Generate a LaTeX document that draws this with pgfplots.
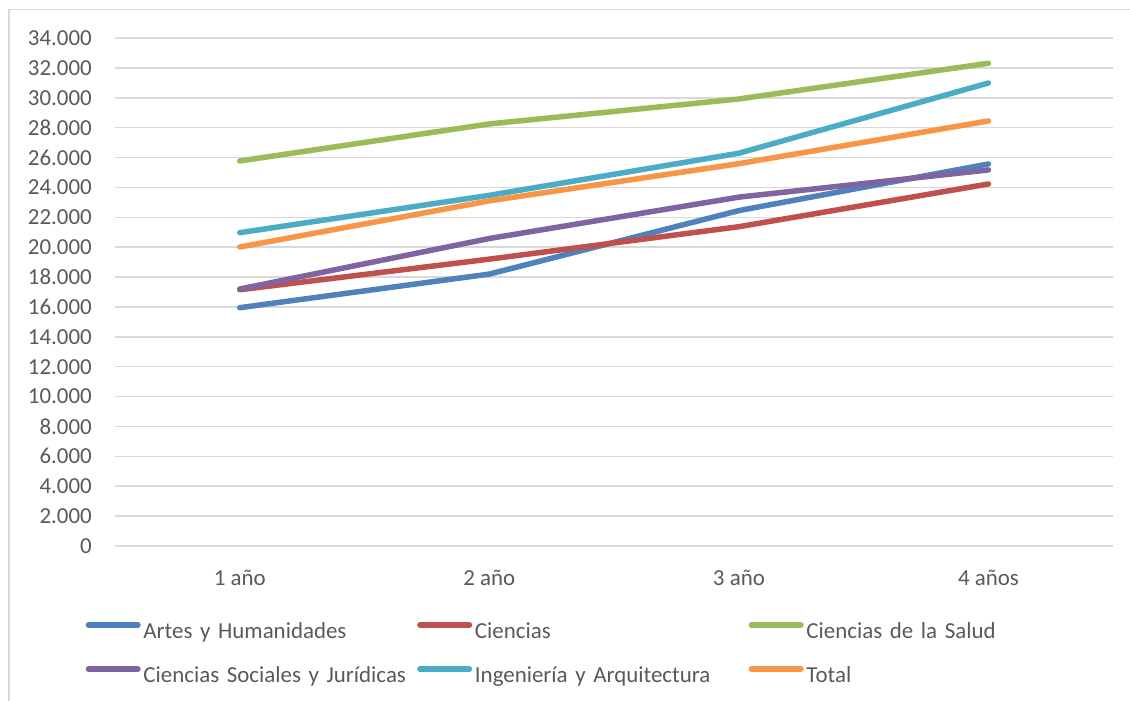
\documentclass[border=0pt]{standalone}
\usepackage{pgfplots}
\pgfplotsset{compat=1.18}
\usepackage{fontspec}
\setmainfont{Carlito}
\definecolor{cA}{HTML}{4F81BD}
\definecolor{cB}{HTML}{C0504D}
\definecolor{cC}{HTML}{9BBB59}
\definecolor{cD}{HTML}{8064A2}
\definecolor{cE}{HTML}{4BACC6}
\definecolor{cF}{HTML}{F79646}
\definecolor{gridc}{HTML}{D9D9D9}
\definecolor{txt}{HTML}{595959}
\begin{document}
\begin{tikzpicture}[x=1bp,y=1bp]
\path[use as bounding box] (0bp,0bp) rectangle (1130bp,701bp);
\begin{scope}
\clip (0bp,0bp) rectangle (1130bp,701bp);
\draw[gridc, line width=1.5bp] (9bp,-10bp) -- (9bp,691.5bp) -- (1140bp,691.5bp);
\end{scope}
\begin{axis}[
  at={(115bp,155bp)}, anchor=south west,
  scale only axis, width=998.3bp, height=508bp,
  xmin=-0.5, xmax=3.5, ymin=0, ymax=34000,
  xtick={0,1,2,3}, xticklabels={1 año,2 año,3 año,4 años},
  ytick={0,2000,...,34000},
  scaled y ticks=false,
  /pgf/number format/.cd, fixed, 1000 sep={.}, assume math mode=true,
  /pgfplots/.cd,
  axis line style={draw=none},
  major tick length=0pt,
  ymajorgrids, grid style={gridc, line width=1.5bp},
  tick label style={font=\fontsize{23}{27}\selectfont, text=txt, inner sep=0pt},
  yticklabel style={anchor=east, xshift=-23bp},
  xticklabel style={anchor=north, yshift=-24bp, text height=15bp, text depth=5bp},
  legend columns=3,
  legend cell align=left,
  legend style={draw=none, fill=none, inner sep=0pt, outer sep=0pt,
    at={(-0.0321,-0.14764)}, anchor=north west,
    /tikz/column sep=0bp, /tikz/row sep=22bp,
    font=\fontsize{23}{27}\selectfont, text=txt,
    nodes={inner sep=0pt, text width=271bp, align=left, text height=17bp, text depth=5bp}},
  legend image code/.code={
    \path (0bp,0bp) (55bp,0bp);
    \draw[#1, line cap=round, line width=5.5bp] (2.75bp,7bp) -- (52.25bp,7bp);
  },
  every axis plot/.append style={line width=5.5bp, line cap=round, line join=round, mark=none},
]
\addplot[cA] coordinates {(0,15950) (1,18200) (2,22450) (3,25570)};
\addlegendentry{Artes y Humanidades}
\addplot[cB] coordinates {(0,17150) (1,19200) (2,21370) (3,24230)};
\addlegendentry{Ciencias}
\addplot[cC] coordinates {(0,25770) (1,28250) (2,29920) (3,32310)};
\addlegendentry{Ciencias de la Salud}
\addplot[cD] coordinates {(0,17200) (1,20580) (2,23350) (3,25170)};
\addlegendentry{Ciencias Sociales y Jurídicas}
\addplot[cE] coordinates {(0,20970) (1,23470) (2,26290) (3,30990)};
\addlegendentry{Ingeniería y Arquitectura}
\addplot[cF] coordinates {(0,20010) (1,23100) (2,25590) (3,28450)};
\addlegendentry{Total}
\end{axis}
\end{tikzpicture}
\end{document}
